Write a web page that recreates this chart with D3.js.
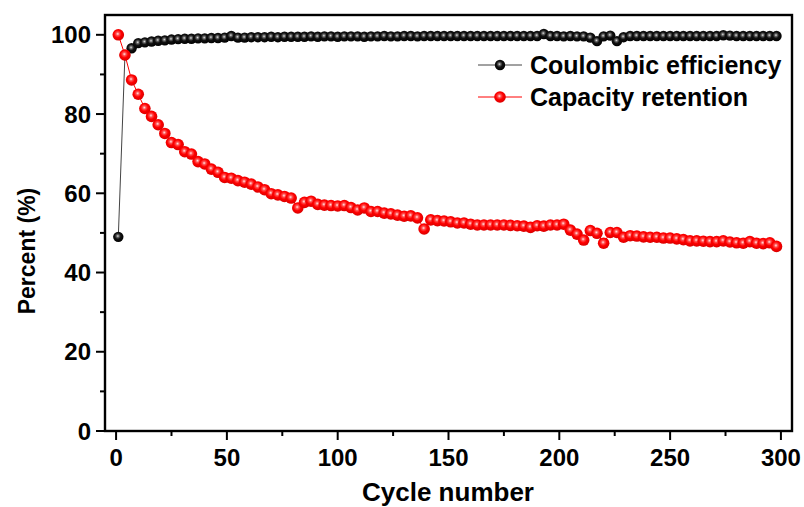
<!DOCTYPE html>
<html>
<head>
<meta charset="utf-8">
<script src="https://cdn.jsdelivr.net/npm/d3@7"></script>
<style>
  body { margin: 0; background: #fff; }
  svg text { font-family: "Liberation Sans", Arial, sans-serif; font-weight: bold; fill: #000; }
</style>
</head>
<body>
<div id="chart"></div>
<script>
// Cycling data, one point every 3 cycles
const cycles = d3.range(100).map(i => 1 + 3 * i);

const coulombic = [
  49.0, 94.9, 96.6, 97.9, 98.1, 98.3, 98.5, 98.6, 98.8, 98.9,
  99.0, 99.0, 99.1, 99.1, 99.2, 99.2, 99.3, 99.7, 99.3, 99.3,
  99.4, 99.4, 99.4, 99.5, 99.4, 99.5, 99.5, 99.5, 99.5, 99.6,
  99.5, 99.6, 99.6, 99.5, 99.6, 99.6, 99.6, 99.5, 99.6, 99.6,
  99.7, 99.6, 99.6, 99.7, 99.7, 99.6, 99.7, 99.7, 99.7, 99.7,
  99.7, 99.7, 99.7, 99.7, 99.7, 99.7, 99.7, 99.7, 99.7, 99.7,
  99.7, 99.7, 99.7, 99.7, 100.2, 99.7, 99.7, 99.6, 99.7, 99.6,
  99.6, 99.3, 98.4, 99.6, 99.8, 98.4, 99.4, 99.7, 99.7, 99.7,
  99.7, 99.7, 99.7, 99.7, 99.7, 99.7, 99.7, 99.7, 99.7, 99.7,
  99.7, 99.9, 99.8, 99.7, 99.7, 99.7, 99.7, 99.7, 99.7, 99.7
];

const retention = [
  100.0, 94.9, 88.6, 85.0, 81.4, 79.4, 77.3, 75.1, 72.8, 72.3,
  70.5, 69.9, 68.0, 67.4, 66.1, 65.3, 64.0, 63.8, 63.2, 62.8,
  62.3, 61.6, 60.9, 59.9, 59.6, 59.2, 58.8, 56.3, 57.7, 58.0,
  57.2, 57.0, 56.9, 56.8, 56.9, 56.4, 55.8, 56.3, 55.4, 55.4,
  55.0, 54.8, 54.5, 54.2, 54.3, 53.8, 51.0, 53.3, 53.1, 53.0,
  52.8, 52.5, 52.5, 52.2, 52.0, 52.0, 52.0, 52.0, 52.0, 51.9,
  51.8, 51.7, 51.4, 51.8, 51.7, 52.0, 52.0, 52.2, 50.7, 49.7,
  48.2, 50.6, 49.9, 47.4, 50.1, 50.1, 48.9, 49.3, 49.2, 49.0,
  48.9, 48.9, 48.7, 48.7, 48.5, 48.3, 48.0, 48.0, 47.9, 47.8,
  47.8, 48.0, 47.7, 47.5, 47.4, 47.8, 47.4, 47.3, 47.5, 46.6
];

const xTicks = [0, 50, 100, 150, 200, 250, 300];
const yTicks = [0, 20, 40, 60, 80, 100];
const seriesNames = ["Coulombic efficiency", "Capacity retention"];

const width = 804, height = 507;
const plot = { left: 105, right: 792, top: 15, bottom: 431 };

const svg = d3.select("#chart").append("svg")
  .attr("width", width)
  .attr("height", height);

const x = d3.scaleLinear().domain([-5, 305]).range([plot.left, plot.right]);
const y = d3.scaleLinear().domain([0, 105]).range([plot.bottom, plot.top]);

// sphere-like marker gradients
const defs = svg.append("defs");
function sphere(id, stops) {
  const g = defs.append("radialGradient").attr("id", id)
    .attr("cx", "45%").attr("cy", "42%").attr("r", "58%");
  stops.forEach(s => g.append("stop").attr("offset", s[0]).attr("stop-color", s[1]));
}
sphere("ballBlack", [["0%", "#e0e0e0"], ["22%", "#666"], ["50%", "#111"], ["100%", "#000"]]);
sphere("ballRed", [["0%", "#ffe6e6"], ["25%", "#ff5050"], ["55%", "#ff0000"], ["100%", "#d80000"]]);

const series = [
  { name: seriesNames[0], values: coulombic, line: "#444", fill: "url(#ballBlack)", r: 5.2 },
  { name: seriesNames[1], values: retention, line: "#ff0000", fill: "url(#ballRed)", r: 5.8 }
];

const line = d3.line().x((d, i) => x(cycles[i])).y(d => y(d));

series.forEach(s => {
  svg.append("path")
    .attr("d", line(s.values))
    .attr("fill", "none")
    .attr("stroke", s.line)
    .attr("stroke-width", 1);
  svg.append("g").selectAll("circle")
    .data(s.values)
    .enter()
    .append("circle")
    .attr("cx", (d, i) => x(cycles[i]))
    .attr("cy", d => y(d))
    .attr("r", s.r)
    .attr("fill", s.fill);
});

// frame
svg.append("rect")
  .attr("x", plot.left).attr("y", plot.top)
  .attr("width", plot.right - plot.left)
  .attr("height", plot.bottom - plot.top)
  .attr("fill", "none")
  .attr("stroke", "#000")
  .attr("stroke-width", 2.4);

// x axis
const xAxis = svg.append("g").attr("transform", `translate(0,${plot.bottom})`);
xAxis.selectAll(".minor").data(d3.range(25, 300, 50)).enter().append("line")
  .attr("x1", d => x(d)).attr("x2", d => x(d))
  .attr("y1", 0).attr("y2", 5)
  .attr("stroke", "#000").attr("stroke-width", 2);
xAxis.selectAll(".major").data(xTicks).enter().append("line")
  .attr("x1", d => x(d)).attr("x2", d => x(d))
  .attr("y1", 0).attr("y2", 9)
  .attr("stroke", "#000").attr("stroke-width", 2);
xAxis.selectAll("text").data(xTicks).enter().append("text")
  .attr("x", d => x(d))
  .attr("y", 35)
  .attr("text-anchor", "middle")
  .style("font-size", "24px")
  .text(d => d);

// y axis
const yAxis = svg.append("g").attr("transform", `translate(${plot.left},0)`);
yAxis.selectAll(".minor").data(d3.range(10, 101, 20)).enter().append("line")
  .attr("x1", 0).attr("x2", -5)
  .attr("y1", d => y(d)).attr("y2", d => y(d))
  .attr("stroke", "#000").attr("stroke-width", 2);
yAxis.selectAll(".major").data(yTicks).enter().append("line")
  .attr("x1", 0).attr("x2", -9)
  .attr("y1", d => y(d)).attr("y2", d => y(d))
  .attr("stroke", "#000").attr("stroke-width", 2);
yAxis.selectAll("text").data(yTicks).enter().append("text")
  .attr("x", -14)
  .attr("y", d => y(d))
  .attr("dy", "0.36em")
  .attr("text-anchor", "end")
  .style("font-size", "24px")
  .text(d => d);

// axis titles
svg.append("text")
  .attr("x", 448)
  .attr("y", 501)
  .attr("text-anchor", "middle")
  .style("font-size", "26px")
  .text("Cycle number");

svg.append("text")
  .attr("transform", "translate(35,251) rotate(-90)")
  .attr("text-anchor", "middle")
  .style("font-size", "23px")
  .text("Percent (%)");

// legend
const legend = svg.append("g");
series.forEach((s, i) => {
  const ly = 65 + i * 32;
  legend.append("line")
    .attr("x1", 478).attr("x2", 522)
    .attr("y1", ly).attr("y2", ly)
    .attr("stroke", s.line).attr("stroke-width", 1);
  legend.append("circle")
    .attr("cx", 500).attr("cy", ly).attr("r", s.r)
    .attr("fill", s.fill);
  legend.append("text")
    .attr("x", 530).attr("y", ly)
    .attr("dy", "0.36em")
    .style("font-size", "25px")
    .text(s.name);
});
</script>
</body>
</html>
